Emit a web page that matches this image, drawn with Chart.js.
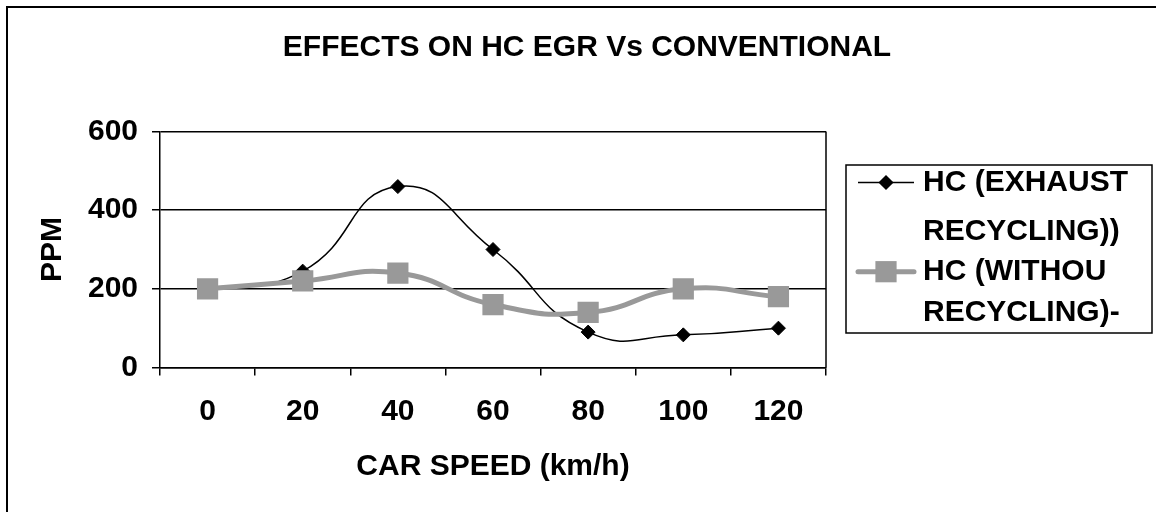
<!DOCTYPE html>
<html lang="en">
<head>
<meta charset="UTF-8">
<title>Effects on HC EGR Vs Conventional</title>
<script src="https://cdn.jsdelivr.net/npm/chart.js"></script>
<style>
  html, body { margin: 0; padding: 0; background: #fff; }
  canvas { display: block; }
</style>
</head>
<body>
<canvas id="hcChart" width="1156" height="512"></canvas>
<script>
const chartTitle = 'EFFECTS ON HC EGR Vs CONVENTIONAL';
const speeds = ['0', '20', '40', '60', '80', '100', '120'];
const hcExhaust = [200, 245, 460, 300, 90, 83, 100];
const hcWithout = [200, 220, 240, 160, 140, 200, 180];
const legendText = [['HC (EXHAUST', 'RECYCLING))'], ['HC (WITHOU', 'RECYCLING)-']];

const FAMILY = '"Liberation Sans", Arial, sans-serif';
const bigBold = { family: FAMILY, size: 30, weight: 'bold' };

// outer frame, title (centred on the whole frame), right edge of the plot and the boxed legend
const extras = {
  id: 'extras',
  afterDraw(chart) {
    const ctx = chart.ctx, a = chart.chartArea;
    ctx.save();
    ctx.strokeStyle = '#000';
    ctx.lineWidth = 2;
    ctx.strokeRect(7, 7, 1200, 560);

    ctx.fillStyle = '#000';
    ctx.font = 'bold 30px ' + FAMILY;
    ctx.textAlign = 'center';
    ctx.textBaseline = 'middle';
    ctx.fillText(chartTitle, 587, 48);

    ctx.lineWidth = 1.5;
    ctx.beginPath();
    ctx.moveTo(a.right, a.top);
    ctx.lineTo(a.right, a.bottom);
    ctx.stroke();

    // legend box
    ctx.strokeRect(846, 165, 306, 168);
    const rows = [[182.5, 231.7], [271.7, 313]];
    chart.data.datasets.forEach((ds, i) => {
      const y = rows[i][0];
      ctx.save();
      ctx.strokeStyle = ds.borderColor;
      ctx.lineWidth = ds.borderWidth;
      ctx.lineCap = i === 1 ? 'round' : 'butt';
      ctx.beginPath();
      ctx.moveTo(858, y);
      ctx.lineTo(914, y);
      ctx.stroke();
      ctx.fillStyle = ds.pointBackgroundColor;
      ctx.strokeStyle = ds.pointBorderColor;
      Chart.helpers.drawPoint(ctx, {
        pointStyle: ds.pointStyle,
        radius: i === 0 ? 6.5 : ds.pointRadius,
        rotation: 0,
        borderWidth: ds.pointBorderWidth
      }, 886, y);
      ctx.restore();

      ctx.fillStyle = '#000';
      ctx.font = 'bold 30px ' + FAMILY;
      ctx.textAlign = 'left';
      ctx.textBaseline = 'middle';
      legendText[i].forEach((t, j) => ctx.fillText(t, 923, rows[i][j]));
    });
    ctx.restore();
  }
};

new Chart(document.getElementById('hcChart'), {
  type: 'line',
  data: {
    labels: speeds,
    datasets: [
      {
        label: 'HC (EXHAUST RECYCLING))',
        data: hcExhaust,
        borderColor: '#000',
        borderWidth: 1.5,
        pointStyle: 'rectRot',
        pointRadius: 7,
        pointBackgroundColor: '#000',
        pointBorderColor: '#000',
        pointBorderWidth: 1,
        tension: 0.5,
        fill: false,
        order: 1
      },
      {
        label: 'HC (WITHOU RECYCLING)-',
        data: hcWithout,
        borderColor: '#999999',
        borderWidth: 5,
        pointStyle: 'rect',
        pointRadius: 15,
        pointBackgroundColor: '#999999',
        pointBorderColor: '#999999',
        pointBorderWidth: 0,
        tension: 0.5,
        fill: false,
        order: 0
      }
    ]
  },
  options: {
    responsive: false,
    animation: false,
    devicePixelRatio: 1,
    layout: { padding: { left: 0, right: 330, top: 131.5, bottom: 0 } },
    plugins: {
      legend: { display: false },
      tooltip: { enabled: false }
    },
    scales: {
      x: {
        offset: true,
        grid: { offset: true, drawOnChartArea: false, color: '#000', lineWidth: 1.5, tickLength: 8 },
        border: { color: '#000', width: 1.5 },
        ticks: { color: '#000', font: bigBold, padding: 18, maxRotation: 0, autoSkip: false },
        title: { display: true, text: 'CAR SPEED (km/h)', color: '#000', font: bigBold, padding: { top: 0, bottom: 27 } },
        afterFit: s => { s.height = 144.5; }
      },
      y: {
        min: 0,
        max: 600,
        grid: { color: '#000', lineWidth: 1.5, tickLength: 8 },
        border: { color: '#000', width: 1.5 },
        ticks: { stepSize: 200, color: '#000', font: bigBold, padding: 14 },
        title: { display: true, text: 'PPM', color: '#000', font: bigBold, padding: { top: 35, bottom: 0 } },
        afterFit: s => { s.width = 160; }
      }
    }
  },
  plugins: [extras]
});
</script>
</body>
</html>
